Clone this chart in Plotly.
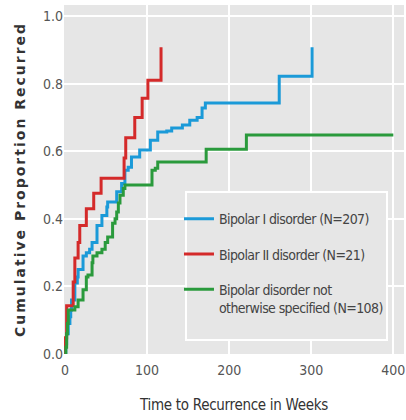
import plotly.graph_objects as go

# Bipolar I disorder (N=207)
bp1_weeks = [0, 1, 2, 4, 6, 7, 8, 12, 15, 16, 22, 26, 30, 33, 39, 45, 51, 52, 63, 69, 73, 77, 81, 91, 95, 104, 113, 124, 130, 143, 152, 161, 167, 171, 261, 301, 301]
bp1_prop = [0, 0.03, 0.06, 0.09, 0.11, 0.13, 0.16, 0.21, 0.228, 0.25, 0.29, 0.30, 0.31, 0.33, 0.38, 0.41, 0.435, 0.45, 0.48, 0.505, 0.544, 0.553, 0.583, 0.604, 0.604, 0.633, 0.657, 0.66, 0.669, 0.678, 0.692, 0.70, 0.728, 0.743, 0.822, 0.908, 0.908]

# Bipolar II disorder (N=21)
bp2_weeks = [0, 0.5, 2, 10, 12, 16, 18, 26, 35, 44, 72, 74, 85, 94, 101, 117, 117]
bp2_prop = [0, 0.048, 0.143, 0.213, 0.284, 0.33, 0.38, 0.43, 0.476, 0.52, 0.58, 0.64, 0.70, 0.757, 0.81, 0.908, 0.908]

# Bipolar disorder NOS (N=108)
nos_weeks = [0, 1, 2, 3, 4, 12, 16, 22, 26, 28, 33, 34, 39, 45, 49, 52, 58, 61, 63, 65, 67, 71, 73, 106, 110, 113, 172, 221, 400]
nos_prop = [0, 0.02, 0.06, 0.09, 0.13, 0.14, 0.16, 0.19, 0.228, 0.234, 0.27, 0.29, 0.30, 0.31, 0.33, 0.346, 0.387, 0.40, 0.42, 0.447, 0.47, 0.49, 0.50, 0.544, 0.55, 0.568, 0.606, 0.648, 0.648]

x_ticks = [0, 100, 200, 300, 400]
y_ticks = [0.0, 0.2, 0.4, 0.6, 0.8, 1.0]

series = [
    ("Bipolar I disorder (N=207)", bp1_weeks, bp1_prop, "#1b9ad8"),
    ("Bipolar II disorder (N=21)", bp2_weeks, bp2_prop, "#d42a2a"),
    ("Bipolar disorder not<br>otherwise specified (N=108)", nos_weeks, nos_prop, "#2a9a3c"),
]

fig = go.Figure()
for i, (name, xs, ys, col) in enumerate(series):
    fig.add_trace(go.Scatter(
        x=xs, y=ys, mode="lines", name=name, line=dict(color=col, width=3, shape="hv"),
        legendgroup=f"g{i}",
    ))

narrow = "DejaVu Sans Condensed, Liberation Sans, sans-serif"
tick_font = dict(family=narrow, size=14, color="#555555")

# legend frame
fig.add_shape(type="rect", xref="paper", yref="paper",
              x0=0.3588, x1=0.95, y0=0.04, y1=0.464,
              line=dict(color="white", width=2), fillcolor="#e6e6e6", layer="above")

fig.update_layout(
    width=406, height=420,
    margin=dict(l=64, r=2, t=5, b=66, autoexpand=False),
    paper_bgcolor="white",
    plot_bgcolor="#e6e6e6",
    showlegend=True,
    legend=dict(
        x=0.3382, y=0.432, xanchor="left", yanchor="top",
        bgcolor="rgba(0,0,0,0)", borderwidth=0,
        font=dict(family=narrow, size=14, color="#444444"),
        traceorder="grouped", tracegroupgap=14, valign="top",
        itemwidth=30,
    ),
    xaxis=dict(
        range=[-1.2, 413], tickvals=x_ticks, ticktext=[str(v) for v in x_ticks],
        showgrid=True, gridcolor="white", gridwidth=1.5, zeroline=False,
        showline=False, ticks="", tickfont=tick_font, automargin=False,
        ticklabelstandoff=6,
        title=dict(text="Time to Recurrence in Weeks",
                   font=dict(family=narrow, size=15, color="#333333"),
                   standoff=22),
    ),
    yaxis=dict(
        range=[0, 1.033], tickvals=y_ticks, ticktext=[f"{v:.1f}" for v in y_ticks],
        showgrid=True, gridcolor="white", gridwidth=1.5, zeroline=False,
        showline=False, ticks="", tickfont=tick_font, automargin=False,
        title=dict(text="<b>Cumulative Proportion Recurred</b>",
                   font=dict(family="DejaVu Sans", size=14, color="#333333"),
                   standoff=14),
    ),
)

post = """
document.querySelectorAll('.ytitle').forEach(function(e){e.style.letterSpacing='2px';});
document.querySelectorAll('.legendtext').forEach(function(e){e.style.letterSpacing='-0.6px';});
document.querySelectorAll('.xtitle').forEach(function(e){e.style.letterSpacing='-0.3px';});
"""

fig.write_html("out.html", post_script=post)
